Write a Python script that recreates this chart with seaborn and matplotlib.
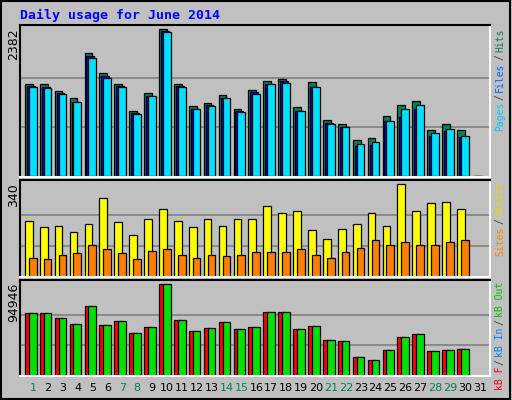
import numpy as np
import matplotlib
matplotlib.use("Agg")
import matplotlib.pyplot as plt
import seaborn as sns

# data (June 2014)
days = list(range(1, 32))
hits = [1491, 1491, 1377, 1264, 1993, 1669, 1491, 1053, 1345, 2382, 1491, 1134, 1183, 1312, 1086,
        1393, 1539, 1572, 1118, 1523, 907, 843, 583, 616, 972, 1150, 1215, 745, 843, 745, 0]
files = [1458, 1442, 1345, 1199, 1944, 1620, 1458, 1021, 1296, 2360, 1458, 1086, 1150, 1264, 1053,
         1361, 1491, 1539, 1053, 1442, 859, 794, 486, 502, 891, 956, 1086, 648, 729, 632, 0]
pages = [1442, 1426, 1329, 1199, 1912, 1588, 1442, 1005, 1296, 2333, 1442, 1086, 1134, 1264, 1037,
         1329, 1491, 1507, 1053, 1442, 843, 794, 518, 551, 891, 1086, 1150, 697, 762, 648, 0]
visits = [203, 181, 188, 166, 192, 288, 200, 155, 214, 248, 203, 181, 211, 188, 214,
          214, 259, 233, 240, 170, 137, 177, 192, 233, 188, 340, 240, 270, 274, 248, 0]
sites = [70, 63, 81, 85, 118, 100, 85, 63, 96, 103, 81, 67, 78, 74, 78,
         89, 92, 92, 103, 81, 67, 92, 107, 133, 118, 129, 118, 115, 129, 133, 0]
kb_in = [64691, 64691, 59474, 53213, 71995, 52170, 56344, 43823, 50083, 94946, 57387, 45910, 49040,
         55300, 47996, 50083, 65734, 65734, 47996, 51127, 36519, 35476, 18781, 16694, 26085, 39649,
         42779, 25042, 26085, 27128, 0]
weekend = [1, 7, 8, 14, 15, 21, 22, 28, 29]

sns.set_theme(style="white")
plt.rcParams['font.family'] = ['DejaVu Sans']

GRAY = "#c0c0c0"
fig = plt.figure(figsize=(5.12, 4.0), dpi=100, facecolor=GRAY)
W, H = 512, 400

def panel(top, bottom, ymax_val, ymax_lim):
    ax = fig.add_axes([20 / W, 1 - bottom / H, 470 / W, (bottom - top) / H])
    ax.set_facecolor(GRAY)
    ax.set_xlim(0.13, 31.67)
    ax.set_ylim(-ymax_val * 0.005, ymax_lim)
    for y in (ymax_val / 3, ymax_val * 2 / 3):
        ax.axhline(y, color="#808080", lw=1.2, zorder=0)
    ax.spines['top'].set_color("black")
    ax.spines['left'].set_color("black")
    ax.spines['bottom'].set_color("white")
    ax.spines['right'].set_color("white")
    for s in ax.spines.values():
        s.set_linewidth(1.5)
    ax.set_xticks([])
    ax.set_yticks([])
    fig.text(14 / W, 1 - (top + 3) / H, f"{ymax_val}", rotation=90, ha="center", va="top",
             fontsize=9, color="black")
    return ax

d = np.array(days)
bw = 0.52
edge = dict(edgecolor="black", linewidth=0.9, align="edge")

ax1 = panel(25, 177, 2382, 2452)
ax1.bar(d - 0.54, hits, bw, color="#00805c", **edge)
ax1.bar(d - 0.41, files, bw, color="#0000ff", **edge)
ax1.bar(d - 0.28, pages, bw, color="#00e0ff", **edge)

ax2 = panel(180, 277, 340, 356)
ax2.bar(d - 0.54, visits, bw, color="#ffff00", **edge)
ax2.bar(d - 0.28, sites, bw, color="#ff8000", **edge)

ax3 = panel(280, 376, 94946, 99435)
ax3.bar(d - 0.54, kb_in, bw, color="#ff0000", **edge)
ax3.bar(d - 0.28, kb_in, bw, color="#00e000", **edge)

# day labels
for day in days:
    fig.text((20 + (day - 0.13) * 14.9) / W, 1 - 388 / H, str(day), ha="center", va="center",
             fontsize=8, color="#00805c" if day in weekend else "black")

fig.text(20 / W, 1 - 15 / H, "Daily usage for June 2014", color="#0000ff", fontsize=9.5,
         fontweight="bold", family="DejaVu Sans Mono", ha="left", va="center")

# right side legends, stacked top-down
def side_label(top, pieces):
    y = top
    for txt, col in pieces:
        n = len(txt)
        fig.text(500 / W, 1 - y / H, txt, rotation=90, ha="center", va="top", color=col,
                 fontsize=7, family="DejaVu Sans Mono")
        y += n * 5.9 + 2

side_label(29, [("Hits", "#00805c"), ("/", "#404040"), ("Files", "#0060ff"),
                ("/", "#404040"), ("Pages", "#00c8ff")])
side_label(181, [("Visits", "#e0e000"), ("/", "#404040"), ("Sites", "#ff8000")])
side_label(282, [("kB Out", "#00c000"), ("/", "#404040"), ("kB In", "#0080ff"),
                 ("/", "#404040"), ("kB F", "#ff0000")])

# outer frame
fig.patches.append(plt.Rectangle((0.002, 0.003), 0.995, 0.994, transform=fig.transFigure,
                                 fill=False, edgecolor="black", lw=1.5))

fig.savefig("out.png", dpi=100, facecolor=GRAY)
